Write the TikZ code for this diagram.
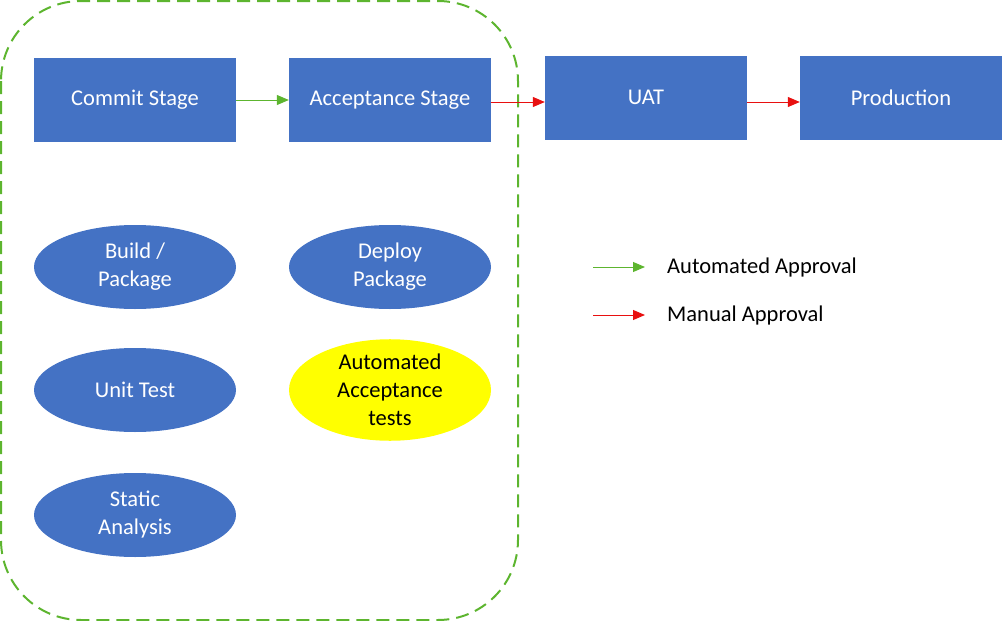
\documentclass[tikz,border=0pt]{standalone}
\usepackage{fontspec}
\setmainfont{Carlito}
\usetikzlibrary{arrows.meta,shapes.geometric}
\definecolor{bblue}{HTML}{4472C4}
\definecolor{dgreen}{HTML}{5DB52F}
\definecolor{ared}{HTML}{E81010}
\definecolor{byellow}{HTML}{FFFF00}
\begin{document}
\begin{tikzpicture}[x=1pt,y=-1pt,
  stagebox/.style={draw=none,fill=bblue,text=white,minimum width=202pt,minimum height=84pt,inner sep=0pt,font=\fontsize{22.5}{27}\selectfont},
  task/.style={ellipse,draw=none,fill=bblue,text=white,minimum width=202pt,minimum height=84pt,inner sep=0pt,align=center,font=\fontsize{22.5}{28}\selectfont},
  autoarrow/.style={draw=dgreen,line width=1pt,-{Triangle[length=12pt,width=10pt]}},
  manarrow/.style={draw=ared,line width=1pt,-{Triangle[length=12pt,width=10pt]}},
  legtext/.style={anchor=west,inner sep=0pt,font=\fontsize{22.5}{27}\selectfont}]
\useasboundingbox (0,0) rectangle (1002,621);
\draw[dgreen,line width=2pt,dash pattern=on 13pt off 7pt,rounded corners=80pt] (1,1) rectangle (518,620);
\node[stagebox] (commit) at (135,100) {Commit Stage};
\node[stagebox] (accept) at (390,100) {Acceptance Stage};
\node[stagebox] (uat) at (646,97.5) {UAT};
\node[stagebox] (prod) at (901,97.5) {Production};
\draw[autoarrow] (commit.east) -- (accept.west);
\draw[manarrow] (accept.east |- 0,102) -- (uat.west |- 0,102);
\draw[manarrow] (uat.east |- 0,102) -- (prod.west |- 0,102);
\node[task] (build) at (135,267) {Build /\\Package};
\node[task] (deploy) at (390,267) {Deploy\\Package};
\node[task] (unit) at (135,390) {Unit Test};
\node[task,fill=byellow,text=black] (aat) at (390,390) {Automated\\Acceptance\\tests};
\node[task] (static) at (135,515) {Static\\Analysis};
\coordinate (g1) at (593,267);
\coordinate (g2) at (645,267);
\coordinate (r1) at (593,315);
\coordinate (r2) at (645,315);
\draw[autoarrow] (g1) -- (g2);
\draw[manarrow] (r1) -- (r2);
\node[legtext] (lauto) at (667,267) {Automated Approval};
\node[legtext] (lman) at (667,315) {Manual Approval};
\end{tikzpicture}
\end{document}
